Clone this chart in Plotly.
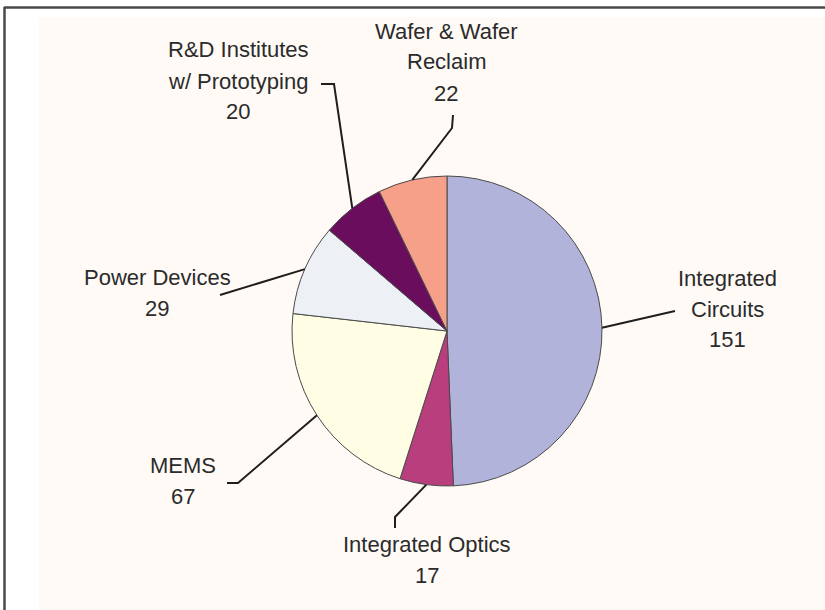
import math
import plotly.graph_objects as go

# Fab counts by segment
segments = ["Integrated Circuits", "Integrated Optics", "MEMS", "Power Devices",
            "R&D Institutes w/ Prototyping", "Wafer & Wafer Reclaim"]
counts = [151, 17, 67, 29, 20, 22]
label_lines = [
    ["Integrated", "Circuits"],
    ["Integrated Optics"],
    ["MEMS"],
    ["Power Devices"],
    ["R&D Institutes", "w/ Prototyping"],
    ["Wafer & Wafer", "Reclaim"],
]
colors = ["#B1B3DB", "#B83E7E", "#FFFDE3", "#EDF1F6", "#6A0D5D", "#F6A08A"]

W, H = 825, 610
CX, CY, R = 447, 331, 155  # pie centre and radius in pixels

# label placement (pixel centre of first line) and elbow points of leader lines
label_pos = [(727, 278), (427, 544), (183, 465), (157, 277), (238, 50), (446, 31)]
leader_elbows = [
    [(675, 311)],
    [(395, 528), (395, 517)],
    [(227, 483), (238, 483)],
    [(220, 295)],
    [(321, 84), (334, 84)],
    [(453, 115), (452, 128)],
]
LINE_STEP = 31

def px(x):
    return x / W

def py(y):
    return 1 - y / H

fig = go.Figure(go.Pie(
    labels=segments,
    values=counts,
    sort=False,
    direction="clockwise",
    rotation=0,
    marker=dict(colors=colors, line=dict(color="#4a4a4a", width=1)),
    textinfo="none",
    hoverinfo="label+value",
    showlegend=False,
    domain=dict(x=[px(CX - R), px(CX + R)], y=[py(CY + R), py(CY - R)]),
))

shapes = [
    # cream panel
    dict(type="rect", xref="paper", yref="paper", layer="below",
         x0=px(39), x1=1, y0=0, y1=py(17),
         fillcolor="#FFFAF6", line=dict(width=0)),
    # frame lines
    dict(type="line", xref="paper", yref="paper", layer="above",
         x0=px(4), x1=1, y0=py(7.5), y1=py(7.5),
         line=dict(color="#4a4a4a", width=2.5)),
    dict(type="line", xref="paper", yref="paper", layer="above",
         x0=px(4.5), x1=px(4.5), y0=0, y1=py(7),
         line=dict(color="#4a4a4a", width=2.5)),
]

annotations = []
total = sum(counts)
cum = 0
for i, v in enumerate(counts):
    mid = (cum + v / 2) / total * 2 * math.pi
    cum += v
    ex = CX + R * math.sin(mid)
    ey = CY - R * math.cos(mid)
    pts = leader_elbows[i] + [(ex, ey)]
    path = "M " + " L ".join(f"{px(x):.5f},{py(y):.5f}" for x, y in pts)
    shapes.append(dict(type="path", xref="paper", yref="paper", layer="above",
                       path=path, line=dict(color="#1e1e1e", width=2)))

    lx, ly = label_pos[i]
    lines = label_lines[i] + [str(v)]
    for k, t in enumerate(lines):
        annotations.append(dict(
            x=px(lx), y=py(ly + k * LINE_STEP), xref="paper", yref="paper",
            text=t, showarrow=False, xanchor="center", yanchor="middle",
            font=dict(family="Liberation Sans, Arial, sans-serif", size=22,
                      color="#2b2b2b"),
        ))

fig.update_layout(
    width=W, height=H,
    margin=dict(l=0, r=0, t=0, b=0),
    paper_bgcolor="white",
    plot_bgcolor="white",
    shapes=shapes,
    annotations=annotations,
)

fig.write_html("out.html")
